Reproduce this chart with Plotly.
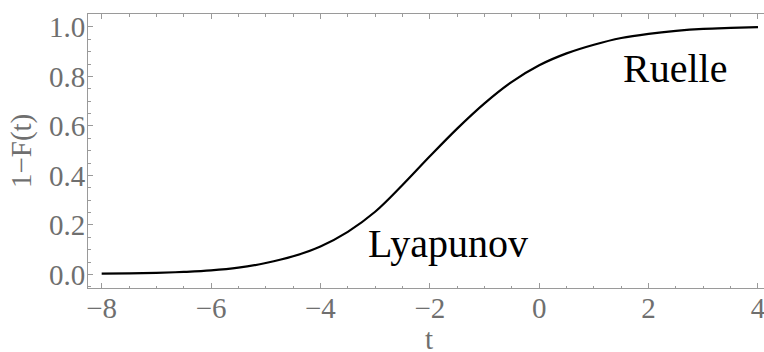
import plotly.graph_objects as go

t_values = [-8, -7.5, -7, -6.5, -6, -5.5, -5, -4.5, -4, -3.5, -3, -2.5, -2,
            -1.5, -1, -0.5, 0, 0.5, 1, 1.5, 2, 2.5, 3, 3.5, 4]
survival = [0.003, 0.004, 0.006, 0.010, 0.016, 0.027, 0.046, 0.073, 0.113,
            0.172, 0.253, 0.361, 0.477, 0.589, 0.691, 0.778, 0.845, 0.893,
            0.928, 0.955, 0.972, 0.984, 0.992, 0.996, 0.999]

labels = ["Lyapunov", "Ruelle"]
label_x = [-1.66, 2.48]
label_y = [0.1255, 0.83]

x_title = "t"
y_title = "1\u2212F(t)"

FONT = "Times New Roman"
GRAY = "#6f6f6f"
LINE = "#9a9a9a"

fig = go.Figure()
fig.add_trace(go.Scatter(x=t_values, y=survival, mode="lines",
                         line=dict(color="black", width=2.2, shape="spline", smoothing=1.0),
                         showlegend=False, hoverinfo="skip"))

for lab, lx, ly in zip(labels, label_x, label_y):
    fig.add_annotation(x=lx, y=ly, text=lab, showarrow=False,
                       xanchor="center", yanchor="middle",
                       font=dict(family=FONT, size=40, color="black"))

fig.add_annotation(xref="paper", yref="paper", x=0.505, y=-0.185, text=x_title,
                   showarrow=False, xanchor="center", yanchor="middle",
                   font=dict(family=FONT, size=29, color=GRAY))
fig.add_annotation(xref="paper", yref="paper", x=-0.099, y=0.5, text=y_title,
                   showarrow=False, xanchor="center", yanchor="middle", textangle=-90,
                   font=dict(family=FONT, size=29, color=GRAY))

fig.update_layout(
    width=764, height=352, autosize=False,
    margin=dict(l=88, r=0, t=14, b=64, autoexpand=False),
    paper_bgcolor="white", plot_bgcolor="white",
    font=dict(family=FONT, size=29, color=GRAY),
)
fig.update_xaxes(
    range=[-8.25, 4.11], showgrid=False, zeroline=False, automargin=False,
    showline=True, linecolor=LINE, linewidth=1, mirror="ticks",
    tick0=0, dtick=2, ticks="inside", ticklen=5, tickcolor=LINE,
    ticklabeloverflow="allow", ticklabelstandoff=-6,
    tickfont=dict(family=FONT, size=29, color=GRAY),
    minor=dict(dtick=0.5, ticks="inside", ticklen=2.5, tickcolor=LINE, showgrid=False),
)
fig.update_yaxes(
    range=[-0.055, 1.052], showgrid=False, zeroline=False, automargin=False,
    showline=True, linecolor=LINE, linewidth=1,
    tick0=0, dtick=0.2, ticks="inside", ticklen=5, tickcolor=LINE,
    tickformat=".1f", ticklabelstandoff=-4,
    tickfont=dict(family=FONT, size=29, color=GRAY),
    minor=dict(dtick=0.05, ticks="inside", ticklen=2.5, tickcolor=LINE, showgrid=False),
)

fig.write_html("out.html", config={"displayModeBar": False},
               post_script="document.body.style.margin='0';document.body.style.overflow='hidden';")
